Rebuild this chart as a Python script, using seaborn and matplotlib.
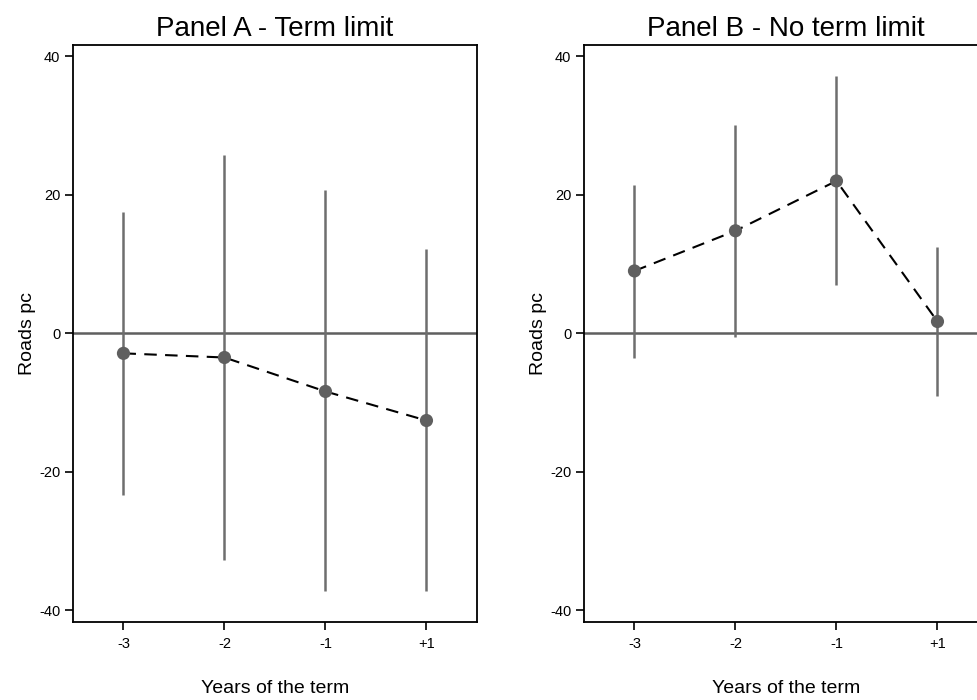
import seaborn as sns
import matplotlib.pyplot as plt
import pandas as pd
import numpy as np

sns.set_style("white")
plt.rcParams['font.family'] = ['Liberation Sans', 'DejaVu Sans']
plt.rcParams['axes.unicode_minus'] = False
plt.rcParams['text.color'] = 'black'
plt.rcParams['axes.labelcolor'] = 'black'
plt.rcParams['xtick.color'] = 'black'
plt.rcParams['ytick.color'] = 'black'

# Event-time categories
years = ["-3", "-2", "-1", "+1"]

# Panel A - term limit: point estimates and 95% CI bounds
est_a = [-2.9, -3.5, -8.4, -12.6]
lo_a = [-23.3, -32.7, -37.2, -37.2]
hi_a = [17.5, 25.8, 20.7, 12.2]

# Panel B - no term limit
est_b = [9.0, 14.8, 22.0, 1.7]
lo_b = [-3.5, -0.5, 7.0, -9.0]
hi_b = [21.4, 30.1, 37.1, 12.5]

fig = plt.figure(figsize=(9.78, 7.0), dpi=100)
ax_a = fig.add_axes([0.0746, 0.1114, 0.4131, 0.8250])
ax_b = fig.add_axes([0.5971, 0.1114, 0.4131, 0.8250])

panels = [
    (ax_a, "Panel A - Term limit", est_a, lo_a, hi_a),
    (ax_b, "Panel B - No term limit", est_b, lo_b, hi_b),
]

for ax, title, est, lo, hi in panels:
    df = pd.DataFrame({"pos": np.arange(len(years)), "est": est, "lo": lo, "hi": hi})
    ax.axhline(0, color="#5f5f5f", lw=1.8, zorder=1)
    ax.vlines(df["pos"], df["lo"], df["hi"], color="#6e6e6e", lw=1.8, zorder=2)
    sns.lineplot(data=df, x="pos", y="est", ax=ax, color="black",
                 linestyle=(0, (6, 4)), lw=1.5, zorder=3)
    sns.scatterplot(data=df, x="pos", y="est", ax=ax, color="#5f5f5f",
                    s=90, edgecolor="none", zorder=4)
    ax.set_xlim(-0.5, 3.5)
    ax.set_ylim(-41.7, 41.7)
    ax.set_xticks(df["pos"])
    ax.set_xticklabels(years)
    ax.set_yticks([-40, -20, 0, 20, 40])
    ax.tick_params(axis="both", direction="out", length=6, width=1.2,
                   labelsize=10.5, bottom=True, left=True)
    ax.tick_params(axis="x", pad=5)
    ax.tick_params(axis="y", pad=3)
    ax.set_xlabel("Years of the term", fontsize=14, labelpad=21)
    ax.set_ylabel("Roads pc", fontsize=14, labelpad=2)
    ax.set_title(title, fontsize=20, pad=6)
    for sp in ax.spines.values():
        sp.set_color("black")
        sp.set_linewidth(1.3)

plt.savefig("out.png", dpi=100)
plt.close()
